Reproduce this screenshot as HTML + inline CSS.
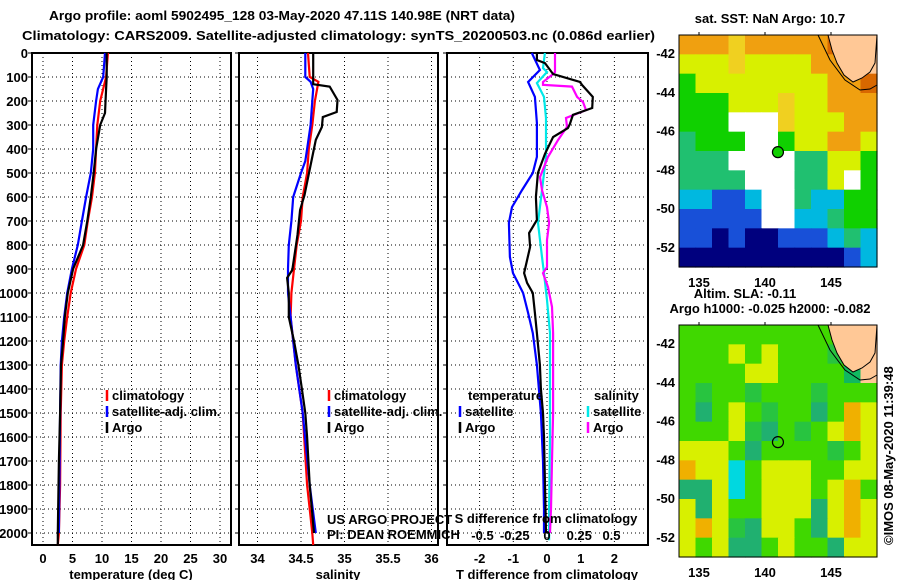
<!DOCTYPE html>
<html><head><meta charset="utf-8">
<style>
html,body{margin:0;padding:0;background:#fff;}
body{width:900px;height:580px;overflow:hidden;font-family:"Liberation Sans",Arial,sans-serif;}
svg text{font-family:"Liberation Sans",Arial,sans-serif;font-weight:bold;font-size:13px;fill:#000;}
</style></head>
<body>
<svg id="chart" width="900" height="580" viewBox="0 0 900 580" xmlns="http://www.w3.org/2000/svg">
<text x="49" y="20" font-size="14" textLength="466" lengthAdjust="spacingAndGlyphs">Argo profile: aoml 5902495_128 03-May-2020 47.11S 140.98E (NRT data)</text>
<text x="22" y="40" font-size="14" textLength="633" lengthAdjust="spacingAndGlyphs">Climatology: CARS2009. Satellite-adjusted climatology: synTS_20200503.nc (0.086d earlier)</text>
<g id="panels"></g>
<g id="maps"></g>
</svg>
<script>
// ---------- data ----------
const depthTicks=[0,100,200,300,400,500,600,700,800,900,1000,1100,1200,1300,1400,1500,1600,1700,1800,1900,2000];
const tempTicks=[0,5,10,15,20,25,30];
const salTicks=[34,34.5,35,35.5,36];
const dTTicks=[-2,-1,0,1,2];
const dSTicks=[-0.5,-0.25,0,0.25,0.5];
const dSTickLabels=["-0.5","-0.25","0","0.25","0.5"];

const tArgoDepth=[0,100,150,250,300,400,500,600,700,800,900,1000,1100,1200,1300,1500,1700,2000,2050];
const tArgo=[10.8,10.8,10.7,10.5,9.7,9.0,8.6,8.1,7.5,6.8,5.1,4.2,3.7,3.4,3.05,2.9,2.7,2.5,2.5];
const tClimDepth=[0,100,200,300,400,500,600,700,800,900,1000,1100,1200,1300,1500,1800,2000,2050];
const tClim=[11.0,10.7,9.7,9.2,9.0,8.8,8.3,7.6,7.0,5.6,4.7,4.1,3.6,3.2,3.0,2.9,2.7,2.5];
const tSatDepth=[0,100,150,200,300,400,500,600,700,800,900,1000,1100,1200,1300,1500,2000];
const tSat=[10.5,10.2,9.3,9.0,8.5,8.5,8.1,7.3,6.6,5.9,4.9,4.1,3.6,3.2,3.0,2.9,2.7];

const sArgoDepth=[0,130,140,196,246,267,308,362,467,592,654,758,904,937,1000,1100,1200,1300,1400,1500,1600,1800,2000];
const sArgo=[34.64,34.64,34.83,34.92,34.91,34.75,34.74,34.67,34.61,34.54,34.49,34.46,34.40,34.34,34.36,34.36,34.42,34.47,34.51,34.55,34.57,34.60,34.65];
const sClimDepth=[0,100,120,200,300,400,500,600,700,800,900,1000,1100,1300,1500,1800,2000,2050];
const sClim=[34.58,34.60,34.70,34.66,34.63,34.59,34.57,34.52,34.50,34.45,34.42,34.39,34.38,34.44,34.52,34.57,34.63,34.64];
const sSatDepth=[0,100,120,150,200,300,400,450,500,600,700,800,900,1000,1100,1300,1500,1800,2000];
const sSat=[34.55,34.55,34.61,34.64,34.63,34.61,34.57,34.55,34.50,34.41,34.39,34.36,34.35,34.35,34.38,34.44,34.52,34.60,34.67];

const dTArgoDepth=[0,29,42,88,121,133,183,229,258,296,313,350,420,500,600,696,750,808,917,958,1000,1083,1167,1300,1400,1500,1600,1800,2000];
const dTArgo=[-0.30,-0.30,-0.06,0.18,0.98,1.04,1.36,1.34,0.77,0.68,0.62,0.18,-0.06,-0.27,-0.33,-0.30,-0.53,-0.50,-0.68,-0.59,-0.42,-0.36,-0.30,-0.21,-0.18,-0.12,-0.09,-0.06,-0.03];
const dTSatDepth=[0,71,121,183,292,433,500,571,642,708,850,917,958,1000,1083,1167,1300,1500,1700,1900,2000];
const dTSat=[-0.45,-0.21,-0.56,-0.36,-0.30,-0.30,-0.42,-0.74,-1.04,-1.13,-1.10,-1.01,-0.86,-0.71,-0.56,-0.42,-0.30,-0.18,-0.12,-0.09,-0.09];
const dSArgoDepth=[0,79,88,121,133,140,183,204,238,271,308,363,433,517,571,642,708,779,892,917,975,1058,1167,1300,1500,1700,1900,2000];
const dSArgo=[0.062,0.062,0.047,-0.031,-0.031,0.194,0.233,0.279,0.302,0.147,0.155,0.085,0.008,-0.054,-0.039,0.0,0.016,0.0,0.0,-0.031,0.008,0.039,0.047,0.047,0.047,0.039,0.031,0.023];
const dSSatDepth=[0,63,79,125,183,271,433,571,708,850,917,1029,1167,1300,1600,1900,2030];
const dSSat=[-0.016,-0.031,0.0,-0.078,-0.023,-0.008,-0.008,-0.039,-0.070,-0.039,-0.023,0.0,0.023,0.023,0.023,0.016,0.016];

// map colour grids (12 lon columns x 12 lat rows)
const sstRows=[
"OOOYOOOOOaLL","yyyYyyyyOOLL","GyyyyyyyyOOa","GGGyyyYyyOOO",
"GGGWWWYyyyOO","TGGGWWGyyOOy","TTTWWWWTTyyG","TTTTWWWTTyWG",
"CCBBCWWTCCGG","BBBBBWWCCTGG","BBDBDDBBBCTC","DDDDDDDDDDBC"];
const slaRows=[
"GGGGGGGGGGLL","GGGYGYGGGgLL","GGGGYYGGGGTL","GgGGgGGGgGGG",
"GtGYGgGGtGOY","GGGYgtGgGYOY","YYYGtGGGGgGY","OYYCGYYYGGYY",
"ttYCGYYYGYOG","YtYGGYYYtYOY","YOYgtYYGtYOY","YGYttGYGGtYY"];
const sstColors={O:"#f0a010",a:"#d86800",y:"#d8f000",Y:"#f0d020",G:"#10d000",T:"#20c070",C:"#00b8e0",B:"#1850d8",D:"#00007e",W:"#ffffff",L:"#ffc896"};
const slaColors={G:"#40d800",g:"#28c440",t:"#20b070",Y:"#d8f000",O:"#f0b000",C:"#00d8e0",T:"#10b860",L:"#ffc896"};
const lonTicks=[135,140,145];
const latTicks=[-42,-44,-46,-48,-50,-52];
const floatLon=140.98, floatLat=-47.11;

// ---------- helpers ----------
const NS="http://www.w3.org/2000/svg";
function mk(tag,attrs,parent,txt){const e=document.createElementNS(NS,tag);for(const k in attrs)e.setAttribute(k,attrs[k]);if(txt!==undefined)e.textContent=txt;parent.appendChild(e);return e;}
const TOP=53,BOT=545;
const yD=d=>TOP+d*0.24;
const panels=document.getElementById('panels');

function panelFrame(name,x0,x1,ticks,xf,labels,showDepth){
  const g=mk('g',{},panels);
  
  
  depthTicks.forEach(d=>{
    const l=mk('line',{x1:x0,x2:x1,y1:yD(d),y2:yD(d),stroke:'#000','stroke-width':1,'stroke-dasharray':'1,3'},g);
    
    
    const tk=mk('line',{x1:x0-4,x2:x0,y1:yD(d),y2:yD(d),stroke:'#000'},g);
    
    
    if(showDepth){
      const t=mk('text',{x:28,y:yD(d)+5,'text-anchor':'end'},g,String(d));
      
      
    }
  });
  ticks.forEach((v,i)=>{
    const x=xf(v);
    const l=mk('line',{x1:x,x2:x,y1:TOP,y2:BOT,stroke:'#000','stroke-width':1,'stroke-dasharray':'1,3'},g);
    
    
    const t=mk('text',{x:x,y:563,'text-anchor':'middle'},g,labels?labels[i]:String(v));
    
    
  });
  const r=mk('rect',{x:x0,y:TOP,width:x1-x0,height:BOT-TOP,fill:'none',stroke:'#000','stroke-width':2},g);
  
  
  return g;
}
function series(g,name,depths,vals,xf,color){
  const pts=depths.map((d,i)=>xf(vals[i]).toFixed(1)+','+yD(d).toFixed(1)).join(' ');
  const p=mk('polyline',{points:pts,fill:'none',stroke:color,'stroke-width':2.2,'stroke-linejoin':'miter'},g);
  
  
}
function legend(g,x,y,color,label,name){
  const l=mk('line',{x1:x,x2:x,y1:y-10,y2:y+1,stroke:color,'stroke-width':2.5},g);
  
  
  const t=mk('text',{x:x+5,y:y},g,label);
  
  
}
function axisTitle(g,x,text,name){
  const t=mk('text',{x:x,y:579,'text-anchor':'middle'},g,text);
  
  
}

// panel 1 temperature
const xT=v=>43+v*5.9;
const g1=panelFrame('temperature-panel',32,231,tempTicks,xT,null,true);
series(g1,'temp-climatology-line',tClimDepth,tClim,xT,'#ff0000');
series(g1,'temp-satellite-line',tSatDepth,tSat,xT,'#0000ff');
series(g1,'temp-argo-line',tArgoDepth,tArgo,xT,'#000000');
legend(g1,107,400,'#ff0000','climatology','temp-legend-climatology');
legend(g1,107,416,'#0000ff','satellite-adj. clim.','temp-legend-satellite');
legend(g1,107,432,'#000000','Argo','temp-legend-argo');
axisTitle(g1,131,'temperature (deg C)','temperature-axis-title');

// panel 2 salinity
const xS=v=>257.5+(v-34)*87;
const g2=panelFrame('salinity-panel',239,438,salTicks,xS,null,false);
series(g2,'sal-climatology-line',sClimDepth,sClim,xS,'#ff0000');
series(g2,'sal-satellite-line',sSatDepth,sSat,xS,'#0000ff');
series(g2,'sal-argo-line',sArgoDepth,sArgo,xS,'#000000');
legend(g2,329,400,'#ff0000','climatology','sal-legend-climatology');
legend(g2,329,416,'#0000ff','satellite-adj. clim.','sal-legend-satellite');
legend(g2,329,432,'#000000','Argo','sal-legend-argo');
axisTitle(g2,338,'salinity','salinity-axis-title');
const c1=mk('text',{x:327,y:524,'font-weight':'normal','font-size':'12'},g2,'US ARGO PROJECT');


const c2=mk('text',{x:327,y:539,'font-weight':'normal','font-size':'12'},g2,'PI: DEAN ROEMMICH');



// panel 3 differences
const xdT=v=>547+v*33.7;
const xdS=v=>547+v*129;
const g3=panelFrame('difference-panel',447,648,dTTicks,xdT,null,false);
series(g3,'dT-satellite-line',dTSatDepth,dTSat,xdT,'#0000ff');
series(g3,'dS-satellite-line',dSSatDepth,dSSat,xdS,'#00e8e8');
series(g3,'dS-argo-line',dSArgoDepth,dSArgo,xdS,'#ff00ff');
series(g3,'dT-argo-line',dTArgoDepth,dTArgo,xdT,'#000000');
const th=mk('text',{x:468,y:400},g3,'temperature');


const sh=mk('text',{x:594,y:400},g3,'salinity');


legend(g3,460,416,'#0000ff','satellite','dT-legend-satellite');
legend(g3,460,432,'#000000','Argo','dT-legend-argo');
legend(g3,588,416,'#00e8e8','satellite','dS-legend-satellite');
legend(g3,588,432,'#ff00ff','Argo','dS-legend-argo');
const sdt=mk('text',{x:546,y:523,'text-anchor':'middle'},g3,'S difference from climatology');


dSTicks.forEach((v,i)=>{
  const t=mk('text',{x:xdS(v),y:540,'text-anchor':'middle'},g3,dSTickLabels[i]);
  
  
});
axisTitle(g3,547,'T difference from climatology','t-difference-axis-title');

// ---------- maps ----------
const maps=document.getElementById('maps');
const MX0=679,MX1=877;
const lonX=lon=>765+(lon-140)*13.2;
function drawMap(name,top,rows,colors,markerFill,title,titleY){
  const latY=lat=>top+18+(-42-lat)*19.4;
  const g=mk('g',{},maps);
  
  
  const H=232, cw=(MX1-MX0)/12, ch=H/12;
  rows.forEach((row,r)=>{
    for(let c=0;c<12;c++){
      const cell=mk('rect',{x:MX0+c*cw,y:top+r*ch,width:cw+0.6,height:ch+0.6,fill:colors[row[c]]},g);
      
      
    }
  });
  const land=mk('path',{d:`M828,${top} L832,${top+15} L837,${top+28} L844,${top+40} L853,${top+47} L862,${top+43} L870,${top+37} L875,${top+28} L877,${top} Z`,fill:'#ffc896',stroke:'#000','stroke-width':1},g);
  
  
  const cont=mk('path',{d:`M818,${top} L830,${top+25} L845,${top+45} L860,${top+55} L870,${top+54} L877,${top+50}`,fill:'none',stroke:'#000','stroke-width':1},g);
  
  
  const m=mk('circle',{cx:lonX(floatLon),cy:latY(floatLat),r:5.5,fill:markerFill,stroke:'#000','stroke-width':1.2},g);
  
  
  const b=mk('rect',{x:MX0,y:top,width:MX1-MX0,height:H,fill:'none',stroke:'#000','stroke-width':1},g);
  
  
  latTicks.forEach(lat=>{
    const t=mk('text',{x:675,y:latY(lat)+5,'text-anchor':'end'},g,String(lat));
    
    
  });
  lonTicks.forEach(lon=>{
    const tk=mk('line',{x1:lonX(lon),x2:lonX(lon),y1:top-3,y2:top,stroke:'#000'},g);
    
    
    const t=mk('text',{x:lonX(lon),y:top+H+20,'text-anchor':'middle'},g,String(lon));
    
    
  });
  const tt=mk('text',{x:770,y:titleY,'text-anchor':'middle'},g,title);
  
  
}
drawMap('sst-map',35,sstRows,sstColors,'#10d000','sat. SST: NaN Argo: 10.7',23);
drawMap('sla-map',325,slaRows,slaColors,'none','Argo h1000: -0.025 h2000: -0.082',313);
const sla=mk('text',{x:745,y:298,'text-anchor':'middle'},maps,'Altim. SLA: -0.11');


const cr=mk('text',{x:0,y:0,'font-weight':'normal','font-size':'12',transform:'translate(893,545) rotate(-90)'},maps,'©IMOS 08-May-2020 11:39:48');


</script>
</body></html>
